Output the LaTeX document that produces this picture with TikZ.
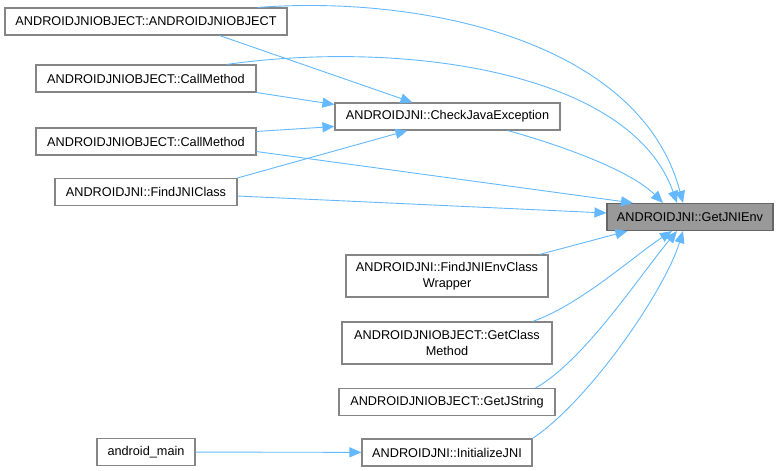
\documentclass[tikz,border=0pt]{standalone}
\usepackage{fontspec}
\setmainfont{Liberation Sans}
\usetikzlibrary{arrows.meta, calc}
\definecolor{callE}{HTML}{63B8FF}
\definecolor{boxR}{HTML}{858585}
\definecolor{focusF}{HTML}{999999}
\definecolor{focusR}{HTML}{666666}
\tikzset{
  fn/.style     ={draw=boxR, fill=white, line width=1.1pt, inner sep=2pt,
                  align=center, minimum height=27pt,
                  font=\fontsize{12.7}{15.5}\selectfont},
  fn2/.style    ={fn, minimum height=42pt},
  fn-cur/.style ={fn, fill=focusF, draw=focusR},
  call/.style   ={-{Triangle[length=12pt,width=10pt]}, callE, line width=0.9pt},
}

\begin{document}
\begin{tikzpicture}[x=1pt, y=-1pt]
\path[use as bounding box] (0,0) rectangle (779,471);

% callers on the left
\node[fn, minimum width=282pt] (AJO) at (146, 21.5) {ANDROIDJNIOBJECT::ANDROIDJNIOBJECT};
\node[fn, minimum width=220pt] (CM1) at (146, 78.5) {ANDROIDJNIOBJECT::CallMethod};
\node[fn, minimum width=220pt] (CM2) at (146, 141.5) {ANDROIDJNIOBJECT::CallMethod};
\node[fn, minimum width=182pt] (FJC) at (146, 192) {ANDROIDJNI::FindJNIClass};
\node[fn, minimum width=98pt]  (AM)  at (146, 452) {android\_main};

% middle column
\node[fn, minimum width=225pt]  (CJE) at (447.5, 116.5) {ANDROIDJNI::CheckJavaException};
\node[fn2, minimum width=202pt] (FJW) at (447, 276) {ANDROIDJNI::FindJNIEnvClass\\Wrapper};
\node[fn2, minimum width=210pt] (GCM) at (447, 343) {ANDROIDJNIOBJECT::GetClass\\Method};
\node[fn, minimum width=216pt]  (GJS) at (447, 402) {ANDROIDJNIOBJECT::GetJString};
\node[fn, minimum width=170pt]  (IJ)  at (447, 452.5) {ANDROIDJNI::InitializeJNI};

% the function itself
\node[fn-cur, minimum width=166pt] (GJE) at (690, 217) {ANDROIDJNI::GetJNIEnv};

% calls into CheckJavaException
\draw[call] ([xshift=-68]AJO.south east) -- ([xshift=-35]CJE.north);
\draw[call] (CM1.south east) -- ([yshift=12]CJE.west);
\draw[call] ([yshift=-4]CM2.north east) -- ([yshift=-10]CJE.west);
\draw[call] (FJC.north east) -- ([xshift=-40]CJE.south);

% calls into GetJNIEnv, from above
\draw[call] ([xshift=-30]AJO.north east) .. controls (420,-5) and (640,40) .. ([xshift=-7]GJE.north);
\draw[call] ([xshift=-30]CM1.north east) .. controls (400,40) and (630,70) .. ([xshift=-13]GJE.north);
\draw[call] ([xshift=-53]CJE.south east) .. controls (560,145) and (630,170) .. ([xshift=-27]GJE.north);
\draw[call] ([yshift=4]CM2.south east) -- ([xshift=-57]GJE.north);
\draw[call] ([yshift=-4]FJC.east) -- ([yshift=4]GJE.west);

% calls into GetJNIEnv, from below
\draw[call] ([xshift=-9]FJW.north east) -- ([xshift=21]GJE.south west);
\draw[call] ([xshift=-20]GCM.north east) .. controls (580,305) and (635,255) .. ([xshift=-18]GJE.south);
\draw[call] ([xshift=-20]GJS.north east) .. controls (585,360) and (640,275) .. ([xshift=-13]GJE.south);
\draw[call] (IJ.north east) .. controls (590,400) and (665,290) .. ([xshift=-7]GJE.south);

\draw[call] (AM) -- (IJ);

\end{tikzpicture}
\end{document}
